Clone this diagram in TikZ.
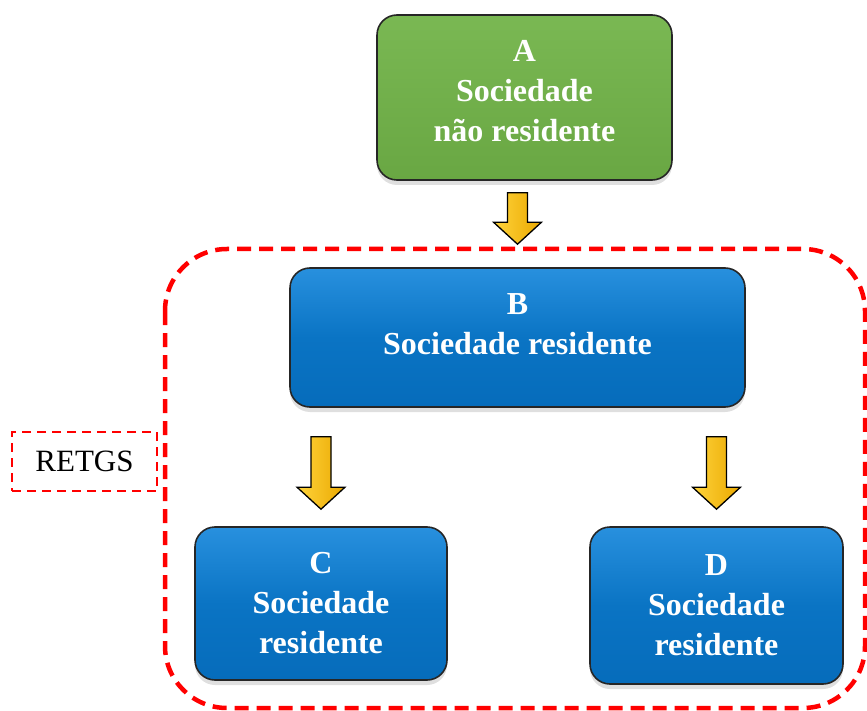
\documentclass[tikz,border=0pt]{standalone}
\usepackage{fontspec}
\setmainfont{Liberation Serif}
\usetikzlibrary{calc,shadows}

\definecolor{boxgreenT}{HTML}{7AB853}
\definecolor{boxgreenB}{HTML}{69A743}
\definecolor{boxblueT}{HTML}{2890DE}
\definecolor{boxblueM}{HTML}{0A74C4}
\definecolor{boxblueB}{HTML}{066CBB}
\definecolor{arrowL}{HTML}{FFD43C}
\definecolor{arrowR}{HTML}{EAA800}
\definecolor{frameRed}{HTML}{FF0000}

\tikzset{
  entity/.style={
    draw=black!85, line width=1.6pt, rounded corners=20pt,
    align=center, text=white, inner sep=0pt,
    font=\fontsize{32}{40}\selectfont\bfseries,
    drop shadow={opacity=0.25, shadow xshift=0pt, shadow yshift=-5pt}
  },
  greenbox/.style={entity, top color=boxgreenT, bottom color=boxgreenB},
  bluebox/.style={entity, top color=boxblueT, bottom color=boxblueB, middle color=boxblueM},
  goldarrow/.style={draw=black, line width=1.3pt, line join=miter,
    left color=arrowL, right color=arrowR},
  groupframe/.style={draw=frameRed, line width=4.5pt, dash pattern=on 14pt off 8pt,
    rounded corners=62pt},
  taglabel/.style={draw=frameRed, line width=1.8pt, dash pattern=on 9pt off 6pt,
    minimum width=145pt, minimum height=59pt, inner sep=0pt,
    font=\fontsize{31}{36}\selectfont}
}

% block arrow from top point #1 to tip #2
\newcommand\blockarrow[2]{%
  \path[goldarrow]
    ($(#1)+(-10,0)$) -- ($(#1)+(10,0)$) -- ($(#2)+(10,-22)$) -- ($(#2)+(24,-22)$)
    -- (#2) -- ($(#2)+(-24,-22)$) -- ($(#2)+(-10,-22)$) -- cycle;}

\begin{document}
\begin{tikzpicture}[x=1pt,y=-1pt]
  \useasboundingbox (0,0) rectangle (867,711);

  % group frame
  \draw[groupframe] (165,249) rectangle (865,708);

  % entities
  \node[greenbox, minimum width=295pt, minimum height=165pt, text depth=14pt] (A) at (524.5,97.5)
    {A\\Sociedade\\não residente};
  \node[bluebox, minimum width=455pt, minimum height=139pt, text depth=27pt] (B) at (517.5,337.5)
    {B\\Sociedade residente};
  \node[bluebox, minimum width=252pt, minimum height=153pt] (C) at (321,603.5)
    {C\\Sociedade\\residente};
  \node[bluebox, minimum width=253pt, minimum height=157pt] (D) at (716.5,605.5)
    {D\\Sociedade\\residente};

  % regime label
  \node[taglabel] (tag) at (84.5,461.5) {RETGS};

  % arrows between entities
  \coordinate (abTop) at ($(A.south -| B.center)+(0,12)$);
  \coordinate (abTip) at ($(B.north)+(0,-23)$);
  \coordinate (bcTop) at ($(B.south -| C.center)+(0,29)$);
  \coordinate (bcTip) at ($(C.north)+(0,-17)$);
  \coordinate (bdTop) at ($(B.south -| D.center)+(0,29)$);
  \coordinate (bdTip) at ($(D.north)+(0,-17)$);
  \blockarrow{abTop}{abTip}
  \blockarrow{bcTop}{bcTip}
  \blockarrow{bdTop}{bdTip}
\end{tikzpicture}
\end{document}
